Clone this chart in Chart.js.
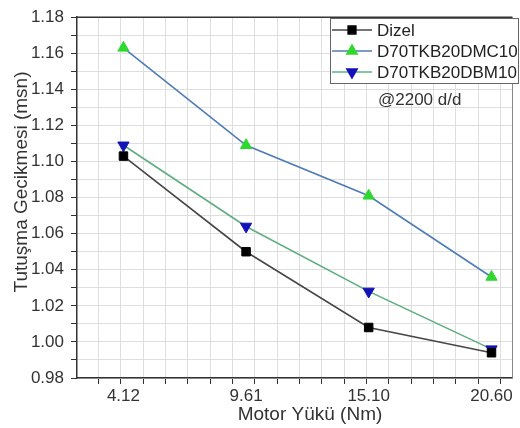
<!DOCTYPE html>
<html>
<head>
<meta charset="utf-8">
<script src="https://cdn.jsdelivr.net/npm/chart.js@4.4.0/dist/chart.umd.min.js"></script>
<style>
    html, body { margin: 0; padding: 0; background: #fff; }
    #wrap { width: 520px; height: 428px; }
</style>
</head>
<body>
<div id="wrap"><canvas id="myChart" width="520" height="428"></canvas></div>
<script>
// data
const loads = [4.12, 9.61, 15.10, 20.60];
const dizel = [1.103, 1.050, 1.008, 0.994];
const dmc10 = [1.163, 1.109, 1.081, 1.036];
const dbm10 = [1.109, 1.064, 1.028, 0.996];
const seriesNames = ['Dizel', 'D70TKB20DMC10', 'D70TKB20DBM10'];
const xGrid = [3, 4, 5, 6, 7, 8, 9, 10, 11, 12, 13, 14, 15, 16, 17, 18, 19, 20, 21];
const xTitle = 'Motor Yükü (Nm)';
const yTitle = 'Tutuşma Gecikmesi (msn)';
const note = '@2200 d/d';

const FONT = '"Liberation Sans", Arial, sans-serif';

function toPoints(vals) {
    return loads.map((x, i) => ({ x: x, y: vals[i] }));
}

// legend, note text, frame and axis titles
const extras = {
    id: 'extras',
    afterDraw(chart) {
        const ctx = chart.ctx;
        const a = chart.chartArea;
        ctx.save();

        // top and right frame
        ctx.lineWidth = 1.5;
        ctx.strokeStyle = '#333';
        ctx.beginPath();
        ctx.moveTo(a.left, a.top);
        ctx.lineTo(a.right, a.top);
        ctx.stroke();
        ctx.strokeStyle = '#888';
        ctx.lineWidth = 1;
        ctx.beginPath();
        ctx.moveTo(a.right, a.top);
        ctx.lineTo(a.right, a.bottom);
        ctx.stroke();

        // legend box
        ctx.fillStyle = '#fff';
        ctx.fillRect(330, 18, 188, 65);
        ctx.strokeStyle = '#666';
        ctx.lineWidth = 1;
        ctx.strokeRect(330.5, 18.5, 188, 65);

        ctx.font = '17px ' + FONT;
        ctx.textBaseline = 'middle';
        chart.data.datasets.forEach((ds, i) => {
            const y = 30 + i * 21;
            ctx.strokeStyle = ds.borderColor;
            ctx.lineWidth = 1.5;
            ctx.beginPath();
            ctx.moveTo(332, y);
            ctx.lineTo(372, y);
            ctx.stroke();
            ctx.fillStyle = ds.pointBackgroundColor;
            ctx.strokeStyle = ds.pointBorderColor;
            Chart.helpers.drawPoint(ctx, {
                pointStyle: ds.pointStyle,
                rotation: ds.pointRotation || 0,
                radius: ds.pointRadius - 0.5,
                borderWidth: 1
            }, 352, y);
            ctx.fillStyle = '#222';
            ctx.textAlign = 'left';
            ctx.fillText(ds.label, 377, y + 1);
        });

        ctx.fillStyle = '#333';
        ctx.fillText(note, 378, 100);

        // axis titles
        ctx.font = '19px ' + FONT;
        ctx.fillStyle = '#333';
        ctx.textAlign = 'center';
        ctx.fillText(xTitle, 310, 415);
        ctx.translate(22, 182);
        ctx.rotate(-Math.PI / 2);
        ctx.fillText(yTitle, 0, 0);
        ctx.restore();
    }
};

const data = {
    datasets: [{
        label: seriesNames[0],
        data: toPoints(dizel),
        borderColor: '#474747',
        borderWidth: 1.6,
        pointStyle: 'rect',
        pointRadius: 6,
        pointBackgroundColor: '#000',
        pointBorderColor: '#000',
        pointBorderWidth: 1
    }, {
        label: seriesNames[1],
        data: toPoints(dmc10),
        borderColor: '#4d7db5',
        borderWidth: 1.6,
        pointStyle: 'triangle',
        pointRadius: 6.5,
        pointBackgroundColor: '#2fd82f',
        pointBorderColor: '#2fd82f',
        pointBorderWidth: 1
    }, {
        label: seriesNames[2],
        data: toPoints(dbm10),
        borderColor: '#5fae82',
        borderWidth: 1.6,
        pointStyle: 'triangle',
        pointRotation: 180,
        pointRadius: 6.5,
        pointBackgroundColor: '#1212b8',
        pointBorderColor: '#1212b8',
        pointBorderWidth: 1
    }]
};

const config = {
    type: 'line',
    data,
    plugins: [extras],
    options: {
        responsive: false,
        animation: false,
        layout: { padding: { top: 15, right: 2, left: 0, bottom: 0 } },
        plugins: {
            legend: { display: false },
            tooltip: { enabled: false }
        },
        scales: {
            x: {
                type: 'linear',
                min: 2.04,
                max: 21.54,
                afterBuildTicks: axis => {
                    const vals = xGrid.concat(loads).sort((p, q) => p - q);
                    axis.ticks = vals.map(v => ({ value: v }));
                },
                afterFit: axis => { axis.height = 50; },
                border: { display: true, color: '#333', width: 1.5 },
                grid: {
                    color: c => (c.tick && loads.includes(c.tick.value)) ? 'rgba(0,0,0,0)' : '#dedede',
                    tickColor: c => (c.tick && loads.includes(c.tick.value)) ? 'rgba(0,0,0,0)' : '#333',
                    tickLength: 6,
                    lineWidth: 1
                },
                ticks: {
                    autoSkip: false,
                    maxRotation: 0,
                    padding: 2,
                    color: '#333',
                    font: { family: FONT, size: 17 },
                    callback: v => loads.includes(v) ? v.toFixed(2) : ''
                }
            },
            y: {
                min: 0.98,
                max: 1.18,
                afterFit: axis => { axis.width = 77; },
                border: { display: true, color: '#333', width: 1.5 },
                grid: {
                    color: '#dedede',
                    tickColor: '#333',
                    tickLength: 6,
                    lineWidth: 1
                },
                ticks: {
                    stepSize: 0.01,
                    autoSkip: false,
                    padding: 7,
                    color: '#333',
                    font: { family: FONT, size: 17 },
                    callback: v => Math.round(v * 100) % 2 === 0 ? v.toFixed(2) : ''
                }
            }
        }
    }
};

var myChart = new Chart(document.getElementById('myChart'), config);
</script>
</body>
</html>
